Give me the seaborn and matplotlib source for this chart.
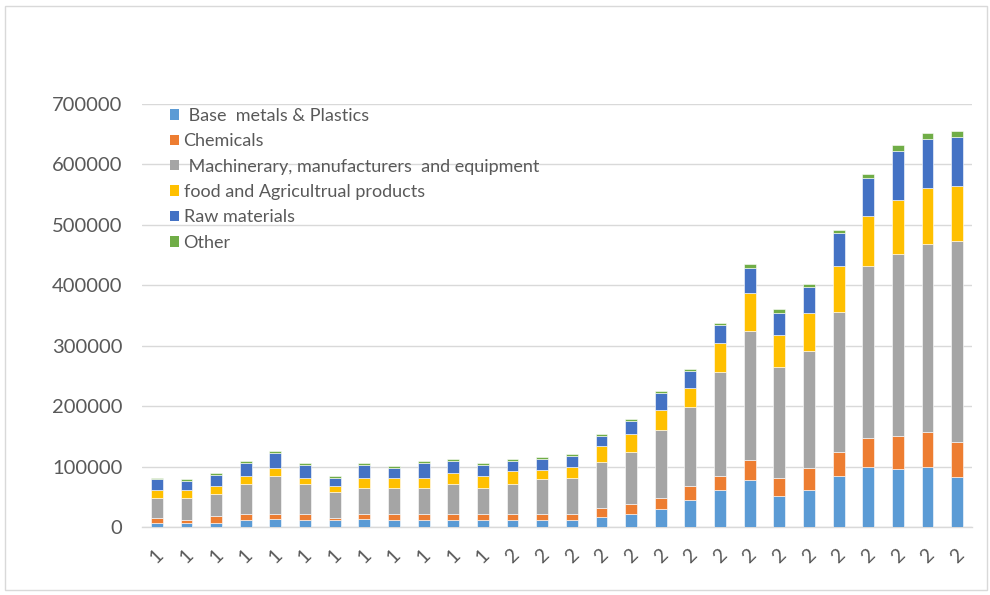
import matplotlib
matplotlib.use("Agg")
import matplotlib.pyplot as plt
import seaborn as sns
import numpy as np
from matplotlib.patches import Rectangle

sns.set_theme(style="white")
plt.rcParams['font.family'] = ['Lato', 'DejaVu Sans']

# ---- data ----
year_labels = ["1"] * 12 + ["2"] * 16
series_names = [" Base  metals & Plastics", "Chemicals",
                " Machinerary, manufacturers  and equipment",
                "food and Agricultrual products", "Raw materials", "Other"]
base_metals = [7300, 7300, 7300, 11200, 14000, 11200, 11200, 14000, 11200, 11200,
               11200, 11200, 11200, 11200, 11100, 16700, 21100, 30600, 43900, 60600,
               77200, 50600, 61100, 83900, 100000, 96300, 99600, 83000]
chemicals = [7300, 3900, 10100, 9600, 6800, 9600, 3400, 6800, 9600, 9600,
             9600, 9600, 9600, 9600, 10000, 14400, 16700, 16600, 23300, 23300,
             33400, 30000, 36700, 40500, 47000, 53700, 57000, 57000]
machinery = [33700, 37100, 37600, 51100, 64000, 51100, 43800, 44400, 44400, 44400,
             51100, 44400, 51100, 57900, 59500, 76100, 86100, 113900, 130600, 173300,
             213800, 183800, 193300, 231600, 285000, 302100, 312100, 332600]
food = [12400, 12400, 12400, 12900, 13500, 9600, 9000, 16300, 16300, 16300,
        16900, 19600, 20200, 16200, 19400, 26700, 30000, 32800, 32800, 46700,
        63400, 53400, 63300, 76500, 83000, 89700, 93000, 92400]
raw_materials = [18000, 15700, 18000, 20800, 23600, 21300, 14100, 21300, 16800, 24100,
                 19600, 18000, 16300, 17500, 17200, 17200, 21100, 27200, 27700, 30500,
                 40000, 36600, 43400, 54700, 63000, 80200, 80300, 79700]
other = [2800, 2300, 3400, 2800, 3400, 2800, 3300, 3400, 3400, 2800,
         4000, 3400, 4000, 3300, 3400, 3300, 3300, 3300, 3400, 3900,
         6600, 6700, 3900, 3900, 6000, 9400, 9400, 10000]
y_ticks = [0, 100000, 200000, 300000, 400000, 500000, 600000, 700000]

colors = ["#5B9BD5", "#ED7D31", "#A5A5A5", "#FFC000", "#4472C4", "#70AD47"]
all_series = [base_metals, chemicals, machinery, food, raw_materials, other]

fig = plt.figure(figsize=(9.9, 5.95), dpi=100)
fig.patches.append(Rectangle((5 / 990, 5 / 595), 982 / 990, 584 / 595,
                             transform=fig.transFigure, fill=False,
                             edgecolor="#d9d9d9", linewidth=1.0))
ax = fig.add_axes([142 / 990, (595 - 527) / 595, 830 / 990, 423 / 595])

idx = list(range(len(year_labels)))
bottom = np.zeros(len(idx))
for name, vals, col in zip(series_names, all_series, colors):
    sns.barplot(x=idx, y=vals, bottom=bottom, color=col, width=0.4,
                errorbar=None, ax=ax, label=name, edgecolor="white",
                linewidth=0.4, saturation=1, zorder=3)
    bottom = bottom + np.array(vals)

ax.set_ylim(0, 700000)
ax.set_xlim(-0.5, len(idx) - 0.5)
ax.set_yticks(y_ticks)
ax.set_yticklabels([str(v) for v in y_ticks])
ax.set_xticks(idx)
ax.set_xticklabels(year_labels, rotation=45, ha="center")
ax.yaxis.grid(True, color="#d9d9d9", linewidth=1.0, zorder=0)
ax.set_axisbelow(True)
for s in ["top", "right", "left"]:
    ax.spines[s].set_visible(False)
ax.spines["bottom"].set_color("#d9d9d9")
ax.spines["bottom"].set_linewidth(1.0)
ax.tick_params(axis="y", length=0, pad=14, labelsize=14.5, labelcolor="#595959")
ax.tick_params(axis="x", length=0, pad=14, labelsize=14, labelcolor="#595959")
ax.set_xlabel("")
ax.set_ylabel("")

handles = [Rectangle((0, 0), 1, 1, facecolor=c, edgecolor="none") for c in colors]
leg = ax.legend(handles, series_names, loc="upper left",
                bbox_to_anchor=(0.025, 1.008), frameon=False, fontsize=13,
                handlelength=0.5, handleheight=0.5, handletextpad=0.25,
                labelspacing=0.52, borderaxespad=0)
for t in leg.get_texts():
    t.set_color("#595959")

fig.savefig("out.png", dpi=100)
